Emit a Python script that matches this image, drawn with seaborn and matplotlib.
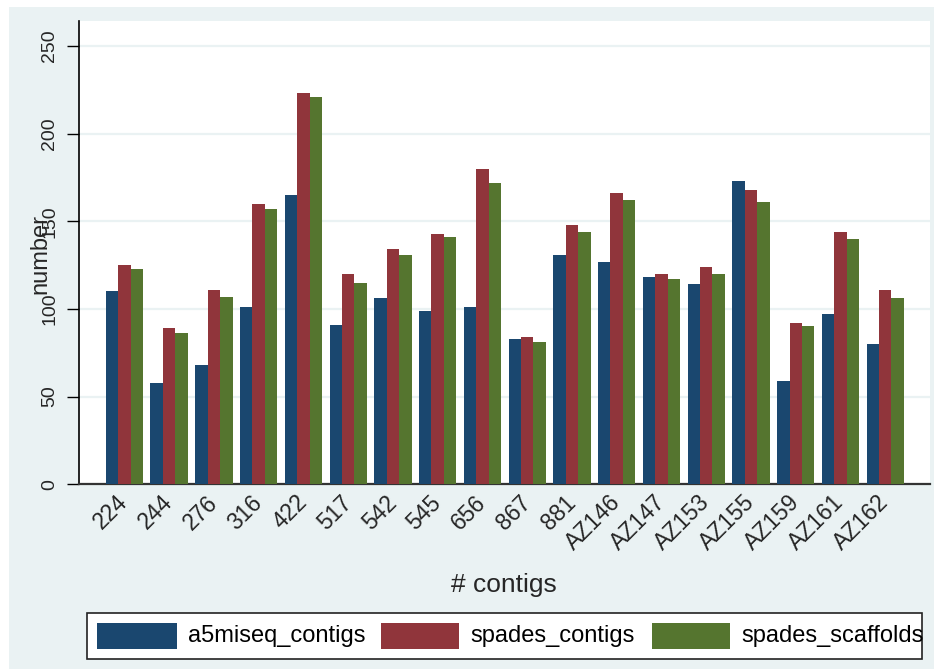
import matplotlib
matplotlib.use("Agg")
import matplotlib.pyplot as plt
from matplotlib.patches import Rectangle
import seaborn as sns
import pandas as pd

samples = ["224", "244", "276", "316", "422", "517", "542", "545", "656",
           "867", "881", "AZ146", "AZ147", "AZ153", "AZ155", "AZ159",
           "AZ161", "AZ162"]
a5miseq_contigs = [110, 58, 68, 101, 165, 91, 106, 99, 101,
                   83, 131, 127, 118, 114, 173, 59, 97, 80]
spades_contigs = [125, 89, 111, 160, 223, 120, 134, 143, 180,
                  84, 148, 166, 120, 124, 168, 92, 144, 111]
spades_scaffolds = [123, 86, 107, 157, 221, 115, 131, 141, 172,
                    81, 144, 162, 117, 120, 161, 90, 140, 106]
series_names = ["a5miseq_contigs", "spades_contigs", "spades_scaffolds"]
series_colors = ["#1A476F", "#90353B", "#55752F"]
y_ticks = [0, 50, 100, 150, 200, 250]

df = pd.DataFrame({
    "sample": samples * 3,
    "value": a5miseq_contigs + spades_contigs + spades_scaffolds,
    "series": [s for s in series_names for _ in samples],
})

sns.set_theme(style="white")
plt.rcParams["font.family"] = ["Liberation Sans", "DejaVu Sans"]

W, H = 934, 669
fig = plt.figure(figsize=(W / 100, H / 100), dpi=100, facecolor="white")

# Stata-like outer graph region
fig.patches.append(Rectangle((9 / W, 0), (W - 9) / W, (H - 7) / H,
                             transform=fig.transFigure, facecolor="#EAF2F3",
                             edgecolor="none", zorder=-5))

ax = fig.add_axes([79 / W, (H - 484.3) / H, (930 - 79) / W, (484.3 - 21) / H])
ax.set_zorder(1)
ax.set_facecolor("white")

sns.barplot(data=df, x="sample", y="value", hue="series", order=samples,
            hue_order=series_names, palette=series_colors, width=0.835,
            saturation=1, legend=False, ax=ax, zorder=3, linewidth=0)

ax.set_xlim(-1.015, 18.0)
ax.set_ylim(0, 264.2)
ax.set_yticks(y_ticks)
ax.set_yticklabels([str(v) for v in y_ticks], rotation=90, va="center",
                   fontsize=14)
ax.yaxis.grid(True, color="#EAF2F3", linewidth=1.6, zorder=0)
ax.set_axisbelow(True)

ax.tick_params(axis="y", length=9, width=1.0, color="black", pad=6, left=True)
ax.tick_params(axis="x", length=0, pad=6)
plt.setp(ax.get_xticklabels(), rotation=45, ha="right", va="center",
         rotation_mode="anchor", fontsize=16.5)
for lbl in ax.get_xticklabels():
    lbl.set_y(-0.014)

for side in ["top", "right"]:
    ax.spines[side].set_visible(False)
ax.spines["left"].set_color("black")
ax.spines["left"].set_linewidth(1.2)
ax.spines["bottom"].set_color("#333333")
ax.spines["bottom"].set_linewidth(1.6)

ax.set_xlabel("# contigs", fontsize=19, labelpad=0)
ax.xaxis.set_label_coords((504 - 79) / (930 - 79), -(573 - 484.3) / (484.3 - 21))
ax.set_ylabel("")
fig.text(40 / W, 1 - 254 / H, "number", rotation=90, ha="center", va="center",
         fontsize=17, zorder=5)

# legend box below the plot
fig.patches.append(Rectangle((87 / W, (H - 659) / H), (922 - 87) / W, 46 / H,
                             transform=fig.transFigure, facecolor="white",
                             edgecolor="#222222", linewidth=1.2, zorder=2))
patch_x = [97, 381, 652]
patch_w = [80, 78, 78]
text_x = [188, 470, 741]
for px, pw, tx, name, col in zip(patch_x, patch_w, text_x, series_names,
                                 series_colors):
    fig.patches.append(Rectangle((px / W, (H - 649) / H), pw / W, 26 / H,
                                 transform=fig.transFigure, facecolor=col,
                                 edgecolor="none", zorder=3))
    fig.text(tx / W, 1 - 636 / H, name, ha="left", va="center", fontsize=17,
             color="black", zorder=4)

fig.savefig("out.png", dpi=100, facecolor="white")
